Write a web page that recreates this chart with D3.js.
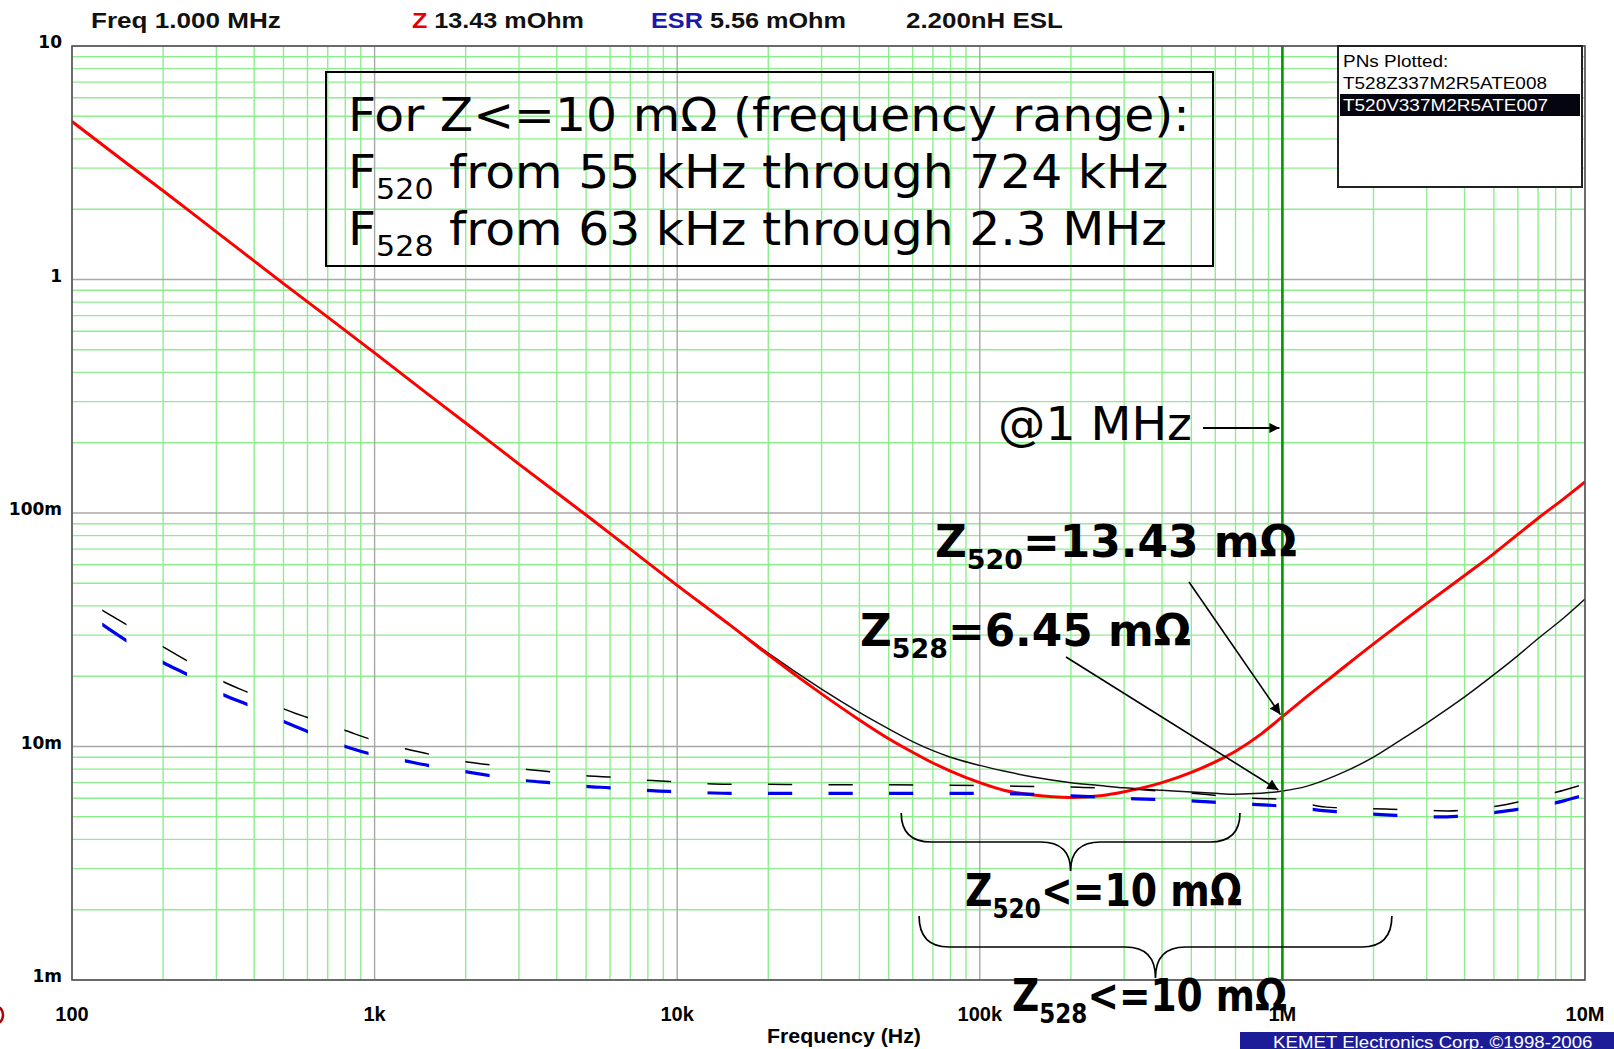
<!DOCTYPE html>
<html><head><meta charset="utf-8">
<script src="https://cdn.jsdelivr.net/npm/d3@7"></script>
<style>html,body{margin:0;padding:0;background:#fff;overflow:hidden}</style>
</head><body>
<svg id="c" width="1614" height="1049"></svg>
<script>
// ---------- data ----------
const xTicks = [100, 1e3, 1e4, 1e5, 1e6, 1e7];
const xTickLabels = ["100", "1k", "10k", "100k", "1M", "10M"];
const yTicks = [10, 1, 0.1, 0.01, 0.001];
const yTickLabels = ["10", "1", "100m", "10m", "1m"];

// impedance |Z| in mOhm
const zFreq = [100,150,200,300,500,700,1e3,1.5e3,2e3,3e3,5e3,7e3,1e4,1.5e4,2e4,3e4,4e4,5e4,6e4,7e4,8e4,1e5,1.2e5,1.5e5,2e5,2.5e5,3e5,4e5,5e5,6e5,7e5,8.5e5,1e6,1.2e6,1.5e6,2e6,2.5e6,3e6,4e6,5e6,6e6,7e6,8.5e6,1e7];
const z520 = [4750,3180,2400,1600,960,690,485,323,243,162,98,70,49,33,24.7,16.8,13.0,10.8,9.45,8.5,7.85,7.0,6.5,6.2,6.05,6.15,6.4,7.0,7.75,8.6,9.55,11.3,13.43,16.3,20.5,27.5,34.3,41,54,67,81,95,115,136];
const z528 = [4750,3180,2400,1600,960,690,485,323,243,162,98,70,49,33,25.1,17.6,14.0,11.9,10.5,9.6,9.0,8.3,7.85,7.4,7.0,6.8,6.65,6.5,6.38,6.3,6.25,6.3,6.45,6.75,7.5,9.0,10.8,12.6,16.3,20.3,24.5,29,35.5,42.8];

// ESR in mOhm
const esrFreq = [125,150,200,250,300,400,500,600,800,1000,1250,1500,2000,2500,3000,4000,5000,6000,7500,10000,15000,20000,30000,50000,100000,200000,300000,500000,800000,1000000,1400000,2200000,3500000,5500000,8500000,10000000];
const esr528 = [38.5,33.5,26.7,22.6,19.6,16.6,14.5,13.3,11.7,10.6,9.8,9.3,8.6,8.3,8.05,7.75,7.5,7.4,7.2,7.05,6.9,6.9,6.85,6.85,6.8,6.7,6.6,6.3,6.0,5.95,5.5,5.4,5.3,5.65,6.5,6.9];
const esr520 = [33.5,28.6,22.9,19.8,17.2,14.7,12.8,11.6,10.0,9.2,8.7,8.3,7.8,7.45,7.2,6.95,6.75,6.65,6.5,6.4,6.3,6.3,6.3,6.3,6.3,6.15,6.0,5.85,5.65,5.56,5.3,5.1,5.0,5.3,5.85,6.2];

const cursorFreq = 1e6;
const zAt520 = 13.43, zAt528 = 6.45;   // mOhm at cursor
const range520 = [55e3, 724e3];
const range528 = [63e3, 2.3e6];
const legendItems = ["PNs Plotted:", "T528Z337M2R5ATE008", "T520V337M2R5ATE007"];

// ---------- setup ----------
const svg = d3.select("#c");
const L = 72, R = 1585, T = 46, B = 980;
const x = d3.scaleLog().domain([100, 1e7]).range([L, R]);
const y = d3.scaleLog().domain([0.001, 10]).range([B, T]);
const defs = svg.append("defs");
defs.append("clipPath").attr("id", "plot").append("rect")
  .attr("x", L).attr("y", T).attr("width", R - L).attr("height", B - T);
const dashStarts = d3.range(0, 25).map(k => Math.pow(10, 2.1 + 0.2 * k));
defs.append("clipPath").attr("id", "dash").selectAll("rect").data(dashStarts).join("rect")
  .attr("x", d => x(d)).attr("width", d => x(d * Math.pow(10, 0.08)) - x(d))
  .attr("y", T).attr("height", B - T);
const mk = (id, w, h) => defs.append("marker").attr("id", id).attr("viewBox", "0 0 10 10")
  .attr("refX", 10).attr("refY", 5).attr("markerUnits", "userSpaceOnUse")
  .attr("markerWidth", w).attr("markerHeight", h).attr("orient", "auto")
  .append("path").attr("d", "M0,0 L10,5 L0,10 Z").attr("fill", "#000");
mk("arr", 16, 11);
mk("arrS", 16, 10);

// ---------- grid ----------
const grid = svg.append("g");
const decX = [100, 1e3, 1e4, 1e5, 1e6];
const minorX = decX.flatMap(d => d3.range(2, 10).map(m => d * m));
const minorY = [0.001, 0.01, 0.1, 1].flatMap(d => d3.range(2, 10).map(m => d * m));
const green = "#8eee8e";
grid.selectAll(".vx").data(minorX).join("line")
  .attr("x1", d => x(d)).attr("x2", d => x(d)).attr("y1", T).attr("y2", B)
  .attr("stroke", green).attr("stroke-width", 1.4);
grid.selectAll(".hy").data(minorY).join("line")
  .attr("y1", d => y(d)).attr("y2", d => y(d)).attr("x1", L).attr("x2", R)
  .attr("stroke", green).attr("stroke-width", 1.4);
grid.selectAll(".dx").data(xTicks).join("line")
  .attr("x1", d => x(d)).attr("x2", d => x(d)).attr("y1", T).attr("y2", B)
  .attr("stroke", "#a8a8a8").attr("stroke-width", 1.4);
grid.selectAll(".dy").data(yTicks).join("line")
  .attr("y1", d => y(d)).attr("y2", d => y(d)).attr("x1", L).attr("x2", R)
  .attr("stroke", "#a8a8a8").attr("stroke-width", 1.4);

// ---------- curves ----------
const plot = svg.append("g").attr("clip-path", "url(#plot)");
const line = d3.line().x(d => x(d[0])).y(d => y(d[1] / 1000)).curve(d3.curveMonotoneX);
plot.append("path").datum(zFreq.map((f, i) => [f, z528[i]])).attr("d", line)
  .attr("fill", "none").attr("stroke", "#111").attr("stroke-width", 1.5);
plot.append("path").datum(zFreq.map((f, i) => [f, z520[i]])).attr("d", line)
  .attr("fill", "none").attr("stroke", "#ff0000").attr("stroke-width", 3);
const esrG = plot.append("g").attr("clip-path", "url(#dash)");
esrG.append("path").datum(esrFreq.map((f, i) => [f, esr528[i]])).attr("d", line)
  .attr("fill", "none").attr("stroke", "#000").attr("stroke-width", 1.5);
esrG.append("path").datum(esrFreq.map((f, i) => [f, esr520[i]])).attr("d", line)
  .attr("fill", "none").attr("stroke", "#0000f0").attr("stroke-width", 3.2);

// cursor
svg.append("line").attr("x1", x(cursorFreq)).attr("x2", x(cursorFreq)).attr("y1", T).attr("y2", B)
  .attr("stroke", "#009a00").attr("stroke-width", 2.6);

// frame
svg.append("rect").attr("x", L).attr("y", T).attr("width", R - L).attr("height", B - T)
  .attr("fill", "none").attr("stroke", "#555").attr("stroke-width", 1.6);

// ---------- helpers ----------
function fitText(x0, y0, w, build) {
  const g = svg.append("g");
  const t = g.append("text").attr("x", 0).attr("y", 0);
  build(t);
  const bw = t.node().getBBox().width;
  const s = w ? w / bw : 1;
  g.attr("transform", `translate(${x0},${y0}) scale(${s},1)`);
  return s;
}

// ---------- axes labels ----------
svg.append("g").selectAll("text").data(yTicks).join("text")
  .attr("x", 62).attr("y", d => y(d) + 2).attr("text-anchor", "end")
  .attr("font-family", "DejaVu Sans").attr("font-weight", "bold").attr("font-size", 17)
  .text((d, i) => yTickLabels[i]);
svg.append("g").selectAll("text").data(xTicks).join("text")
  .attr("x", d => x(d)).attr("y", 1021).attr("text-anchor", "middle")
  .attr("font-family", "Liberation Sans").attr("font-weight", "bold").attr("font-size", 20)
  .text((d, i) => xTickLabels[i]);
fitText(767, 1043, 154, t => t.attr("font-family", "Liberation Sans").attr("font-weight", "bold")
  .attr("font-size", 20).text("Frequency (Hz)"));

// ---------- header ----------
const hdr = (x0, w, parts) => fitText(x0, 28, w, t => {
  t.attr("font-family", "Liberation Sans").attr("font-weight", "bold").attr("font-size", 22);
  parts.forEach(p => t.append("tspan").attr("fill", p[1]).text(p[0]));
});
hdr(91, 190, [["Freq 1.000 MHz", "#111"]]);
hdr(412, 172, [["Z", "#e80000"], [" 13.43 mOhm", "#111"]]);
hdr(651, 195, [["ESR", "#1a1aa8"], [" 5.56 mOhm", "#111"]]);
hdr(906, 157, [["2.200nH ESL", "#111"]]);

// ---------- legend ----------
svg.append("rect").attr("x", 1338).attr("y", 46).attr("width", 244).attr("height", 141)
  .attr("fill", "#fff").attr("stroke", "#222").attr("stroke-width", 2);
svg.append("rect").attr("x", 1340).attr("y", 94).attr("width", 240).attr("height", 22).attr("fill", "#050510");
const legS = fitText(1343, 89, 204, t => t.attr("font-family", "Liberation Sans").attr("font-size", 17).text(legendItems[1]));
{
  const g0 = svg.append("g").attr("transform", `translate(1343,67) scale(${legS},1)`);
  g0.append("text").attr("font-family", "Liberation Sans").attr("font-size", 17).attr("fill", "#000").text(legendItems[0]);
  const g = svg.append("g").attr("transform", `translate(1343,111) scale(${legS},1)`);
  g.append("text").attr("font-family", "Liberation Sans").attr("font-size", 17).attr("fill", "#fff").text(legendItems[2]);
}

// ---------- annotation box ----------
svg.append("rect").attr("x", 326).attr("y", 72).attr("width", 887).attr("height", 194)
  .attr("fill", "none").attr("stroke", "#000").attr("stroke-width", 2);
const boxFont = t => t.attr("font-family", "DejaVu Sans").attr("font-size", 47).attr("fill", "#000");
const sBox = fitText(348, 131, 842, t => boxFont(t).text("For Z<=10 mΩ (frequency range):"));
const subLine = (yy, sub, rest) => {
  const g = svg.append("g").attr("transform", `translate(348,${yy}) scale(${sBox},1)`);
  const t = boxFont(g.append("text"));
  t.append("tspan").text("F");
  t.append("tspan").attr("font-size", 29).attr("dy", 11).text(sub);
  t.append("tspan").attr("dy", -11).text(rest);
};
subLine(188, "520", " from 55 kHz through 724 kHz");
subLine(245, "528", " from 63 kHz through 2.3 MHz");

// @1 MHz
fitText(998, 440, 194, t => boxFont(t).text("@1 MHz"));
svg.append("line").attr("x1", 1203).attr("y1", 428).attr("x2", x(cursorFreq) - 3).attr("y2", 428)
  .attr("stroke", "#000").attr("stroke-width", 2).attr("marker-end", "url(#arrS)");

// bold labels
const boldLbl = (x0, y0, w, sub, rest) => fitText(x0, y0, w, t => {
  t.attr("font-family", "DejaVu Sans").attr("font-weight", "bold").attr("font-size", 44).attr("fill", "#000");
  t.append("tspan").text("Z");
  t.append("tspan").attr("font-size", 27).attr("dy", 12).text(sub);
  t.append("tspan").attr("dy", -12).text(rest);
});
boldLbl(935, 557, 362, "520", "=13.43 mΩ");
boldLbl(860, 646, 331, "528", "=6.45 mΩ");

// arrows to cursor values
svg.append("line").attr("x1", 1189).attr("y1", 582).attr("x2", x(cursorFreq) - 2).attr("y2", y(zAt520 / 1000) - 2)
  .attr("stroke", "#000").attr("stroke-width", 1.6).attr("marker-end", "url(#arr)");
svg.append("line").attr("x1", 1066).attr("y1", 657).attr("x2", x(cursorFreq) - 4).attr("y2", y(zAt528 / 1000) - 1)
  .attr("stroke", "#000").attr("stroke-width", 1.6).attr("marker-end", "url(#arr)");

// braces
function brace(f1, f2, yTop, yMid, yTip) {
  const x1 = x(f1), x2 = x(f2), xm = (x1 + x2) / 2, r = 30;
  const p = `M${x1},${yTop} Q${x1},${yMid} ${x1 + r},${yMid} L${xm - r},${yMid} Q${xm},${yMid} ${xm},${yTip} ` +
            `Q${xm},${yMid} ${xm + r},${yMid} L${x2 - r},${yMid} Q${x2},${yMid} ${x2},${yTop}`;
  svg.append("path").attr("d", p).attr("fill", "none").attr("stroke", "#000").attr("stroke-width", 1.7);
}
brace(range520[0], range520[1], 813, 842, 871);
brace(range528[0], range528[1], 916, 947, 978);
boldLbl(965, 906, 277, "520", "<=10 mΩ");
boldLbl(1012, 1011, 275, "528", "<=10 mΩ");

// ---------- footer ----------
svg.append("rect").attr("x", 1240).attr("y", 1032).attr("width", 374).attr("height", 17).attr("fill", "#1c1c98");
fitText(1273, 1048, 320, t => t.attr("font-family", "Liberation Sans").attr("font-size", 16).attr("fill", "#fff")
  .text("KEMET Electronics Corp. ©1998-2006"));
svg.append("ellipse").attr("cx", -3).attr("cy", 1015).attr("rx", 6).attr("ry", 8)
  .attr("fill", "none").attr("stroke", "#b00000").attr("stroke-width", 2.5);
</script>
</body></html>
